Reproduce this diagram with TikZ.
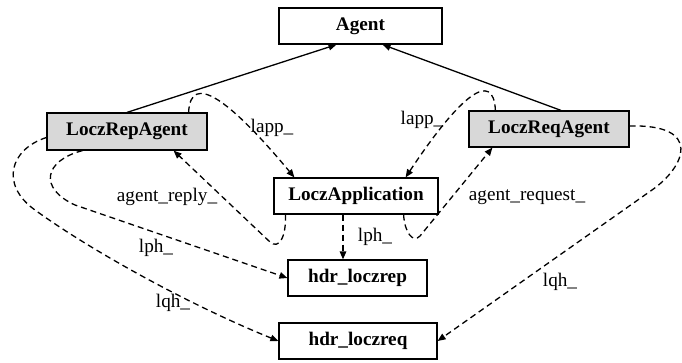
\documentclass[tikz,border=0pt]{standalone}
\usepackage{fontspec}
\setmainfont{Liberation Serif}
\usetikzlibrary{arrows.meta}
\definecolor{boxgray}{RGB}{216,216,216}
\begin{document}
\begin{tikzpicture}[x=1pt,y=-1pt,
  box/.style={draw,line width=1.2pt,inner sep=0pt,minimum height=36pt,
    font=\fontsize{19.2}{22}\selectfont\bfseries},
  agentbox/.style={box,fill=boxgray},
  link/.style={line width=1.3pt,-{Triangle[length=8pt,width=6.5pt]}},
  msg/.style={link,dash pattern=on 6pt off 4pt},
  lbl/.style={inner sep=0pt,font=\fontsize{19.2}{22}\selectfont}]
\useasboundingbox (0,0) rectangle (682,362);

% classes
\node[box,minimum width=163pt] (agent) at (360.5,26) {Agent};
\node[agentbox,minimum width=160pt,minimum height=37pt] (rep) at (127,131.5) {LoczRepAgent};
\node[agentbox,minimum width=160pt] (req) at (549,129) {LoczReqAgent};
\node[box,minimum width=164pt] (app) at (356,196) {LoczApplication};
\node[box,minimum width=139pt] (hrep) at (357.5,278) {hdr\_loczrep};
\node[box,minimum width=158pt] (hreq) at (358,341) {hdr\_loczreq};

% bends of the curved links
\coordinate (rbend) at (270,242);
\coordinate (qbend) at (420,236);
\coordinate (pbend) at (75,205);
\coordinate (lbend) at (35,210);
\coordinate (rqbend) at (652,190);

% inheritance
\draw[link] (rep.north) -- ([xshift=-24pt]agent.south);
\draw[link] ([xshift=12pt]req.north) -- ([xshift=22pt]agent.south);

% lapp_
\draw[msg] ([xshift=-19pt]rep.north east) .. controls +(2,-41) and +(-65,-78) .. ([xshift=21pt]app.north west);
\draw[msg] ([xshift=27pt]req.north west) .. controls +(-2,-41) and +(55,-83) .. ([xshift=-33pt]app.north east);

% agent_reply_ / agent_request_
\draw[msg] ([xshift=12pt]app.south west) .. controls +(1,22) and +(9,8) .. (rbend) -- ([xshift=-34pt]rep.south east);
\draw[msg] ([xshift=-35pt]app.south east) .. controls +(1,18) and +(-7,7.5) .. (qbend) -- ([xshift=24pt]req.south west);

% lph_
\draw[msg] ([xshift=-13pt]app.south) -- ([xshift=-14.5pt]hrep.north);
\draw[msg] ([xshift=36pt]rep.south west) .. controls +(-38,10) and +(-37,-17) .. (pbend) -- (hrep.west);

% lqh_
\draw[msg] ([yshift=-6pt]rep.west) .. controls +(-37,12) and +(-35,-25) .. (lbend) .. controls +(55,40) and +(-89,-36) .. (hreq.west);
\draw[msg] ([yshift=3pt]req.east) .. controls +(74,-2) and +(33,-23) .. (rqbend) -- (hreq.east);

% labels
\node[lbl] (l1) at (272,128) {lapp\_};
\node[lbl] (l2) at (422,120) {lapp\_};
\node[lbl] (l3) at (167,197) {agent\_reply\_};
\node[lbl] (l4) at (527,197) {agent\_request\_};
\node[lbl] (l5) at (375,237) {lph\_};
\node[lbl] (l6) at (156,248) {lph\_};
\node[lbl] (l7) at (173,303) {lqh\_};
\node[lbl] (l8) at (560,282) {lqh\_};
\end{tikzpicture}
\end{document}
